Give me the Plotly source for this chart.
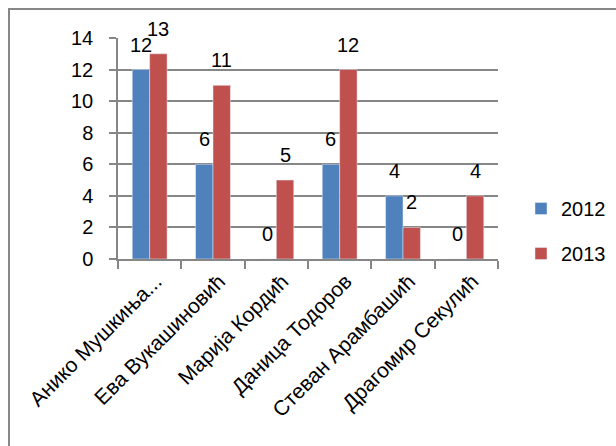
import plotly.graph_objects as go

categories = ["Анико Мушкиња...", "Ева Вукашиновић", "Марија Кордић",
              "Даница Тодоров", "Стеван Арамбашић", "Драгомир Секулић"]
values_2012 = [12, 6, 0, 6, 4, 0]
values_2013 = [13, 11, 5, 12, 2, 4]
series_names = ["2012", "2013"]
series_colors = ["#4F81BD", "#C0504D"]
y_ticks = [0, 2, 4, 6, 8, 10, 12, 14]

FONT = "Liberation Sans"
GRAY = "#868686"
FS = 20

L, R, T, B = 118, 118, 38, 187
W, H = 616, 446
pw, ph = W - L - R, H - T - B
BARGAP = 0.45

fig = go.Figure()
series = [values_2012, values_2013]
for i, (name, vals, color) in enumerate(zip(series_names, series, series_colors)):
    fig.add_trace(go.Bar(
        x=categories, y=vals, name=name, marker_color=color,
        legendgroup=name,
    ))

# data labels (Excel-style, a little above each bar)
bar_w = pw / len(categories) * (1 - BARGAP) / len(series)
annotations = []
for i, vals in enumerate(series):
    off = (i - (len(series) - 1) / 2) * bar_w
    for cat, v in zip(categories, vals):
        annotations.append(dict(
            x=cat, y=v, xref="x", yref="y", text=str(v), showarrow=False,
            xanchor="center", yanchor="bottom", xshift=off, yshift=12,
            font=dict(family=FONT, size=FS, color="black"),
        ))

fig.update_layout(
    width=W, height=H,
    margin=dict(l=L, r=R, t=T, b=B, pad=0, autoexpand=False),
    barmode="group", bargap=BARGAP, bargroupgap=0,
    plot_bgcolor="white", paper_bgcolor="white",
    font=dict(family=FONT, size=FS, color="black"),
    showlegend=True,
    legend=dict(x=(521 - L) / pw, y=(T + ph - 189) / ph, xanchor="left", yanchor="top",
                traceorder="grouped", tracegroupgap=16,
                font=dict(family=FONT, size=FS, color="black"),
                itemwidth=30, bgcolor="rgba(0,0,0,0)"),
    annotations=annotations,
    shapes=[dict(type="rect", xref="paper", yref="paper",
                 x0=(9 - L) / pw, x1=(630 - L) / pw,
                 y0=-(470 - (T + ph)) / ph, y1=1 + (T - 9) / ph,
                 line=dict(color="#878787", width=2), layer="below")],
)
fig.update_yaxes(range=[0, 14], tickvals=y_ticks, ticktext=[str(v) for v in y_ticks],
                 automargin=False,
                 showgrid=True, gridcolor=GRAY, gridwidth=1.5,
                 showline=True, linecolor=GRAY, linewidth=1.5,
                 ticks="outside", ticklen=7, tickcolor=GRAY, tickwidth=1.5,
                 zeroline=False, ticklabelstandoff=12,
                 tickfont=dict(family=FONT, size=FS, color="black"))
fig.update_xaxes(type="category", tickangle=-45, ticks="outside", tickson="boundaries",
                 automargin=False,
                 ticklen=8, tickcolor=GRAY, tickwidth=1.5,
                 showline=True, linecolor=GRAY, linewidth=1.5,
                 ticklabelshift=6, ticklabelstandoff=0,
                 tickfont=dict(family=FONT, size=21, color="black"))

fig.write_html("out.html", config={"displayModeBar": False},
               post_script="document.body.style.margin='0';document.body.style.overflow='hidden';")
